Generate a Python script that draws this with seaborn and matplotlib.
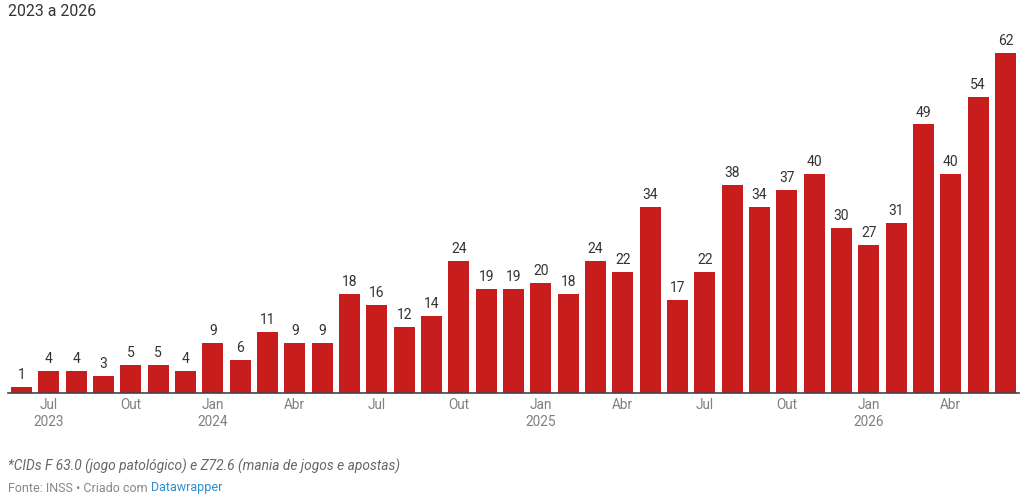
import matplotlib
matplotlib.use("Agg")
import matplotlib.pyplot as plt
import seaborn as sns
import pandas as pd

months = ["Jun 2023","Jul 2023","Ago 2023","Set 2023","Out 2023","Nov 2023","Dez 2023",
          "Jan 2024","Fev 2024","Mar 2024","Abr 2024","Mai 2024","Jun 2024","Jul 2024",
          "Ago 2024","Set 2024","Out 2024","Nov 2024","Dez 2024","Jan 2025","Fev 2025",
          "Mar 2025","Abr 2025","Mai 2025","Jun 2025","Jul 2025","Ago 2025","Set 2025",
          "Out 2025","Nov 2025","Dez 2025","Jan 2026","Fev 2026","Mar 2026","Abr 2026",
          "Mai 2026","Jun 2026"]
values = [1,4,4,3,5,5,4,9,6,11,9,9,18,16,12,14,24,19,19,20,18,24,22,34,17,22,38,34,37,40,
          30,27,31,49,40,54,62]
tick_labels = {"Jul 2023": "Jul\n2023", "Out 2023": "Out", "Jan 2024": "Jan\n2024",
               "Abr 2024": "Abr", "Jul 2024": "Jul", "Out 2024": "Out", "Jan 2025": "Jan\n2025",
               "Abr 2025": "Abr", "Jul 2025": "Jul", "Out 2025": "Out", "Jan 2026": "Jan\n2026",
               "Abr 2026": "Abr"}
title = "2023 a 2026"
note = "*CIDs F 63.0 (jogo patológico) e Z72.6 (mania de jogos e apostas)"
source = "Fonte: INSS • Criado com "
source_link = "Datawrapper"

sns.set_theme(style="white")
plt.rcParams["font.family"] = ["Roboto", "DejaVu Sans"]

df = pd.DataFrame({"month": months, "value": values})

W, H = 1024, 501
left, right, bottom, top = 7.8, 1019.2, 392.5, 40
fig = plt.figure(figsize=(W/100, H/100), dpi=100)
ax = fig.add_axes([left/W, 1 - bottom/H, (right-left)/W, (bottom-top)/H])
sns.barplot(data=df, x="month", y="value", color="#c71e1d", saturation=1, width=0.77,
            ax=ax, linewidth=0)
ax.set_xlim(-0.5, len(months) - 0.5)
ax.set_ylim(0, (bottom - top) / 5.47)
for i, v in enumerate(values):
    ax.text(i, v + 0.9, str(v), ha="center", va="bottom", fontsize=10, color="#333333")

ticks = [i for i, m in enumerate(months) if m in tick_labels]
ax.set_xticks(ticks)
ax.set_xticklabels([tick_labels[months[i]] for i in ticks], fontsize=9.8, color="#808080",
                   linespacing=1.25, va="top")
ax.tick_params(axis="x", length=0, pad=4)
ax.set_yticks([])
ax.set_xlabel("")
ax.set_ylabel("")
for s in ["top", "right", "left"]:
    ax.spines[s].set_visible(False)
ax.spines["bottom"].set_color("#444444")
ax.spines["bottom"].set_linewidth(1.2)

fig.text(8/W, 1 - 11/H, title, fontsize=11.4, color="#333333", va="center", ha="left")
fig.text(8/W, 1 - 466/H, note, fontsize=9.9, color="#666666", style="italic",
         va="center", ha="left")
t = fig.text(8/W, 1 - 488/H, source, fontsize=9.0, color="#888888", va="center", ha="left")
fig.canvas.draw()
bb = t.get_window_extent(renderer=fig.canvas.get_renderer())
fig.text(bb.x1 / fig.bbox.width, 1 - 488/H, source_link, fontsize=9.0, color="#2a8fd0",
         va="center", ha="left")

fig.savefig("out.png", dpi=100)
